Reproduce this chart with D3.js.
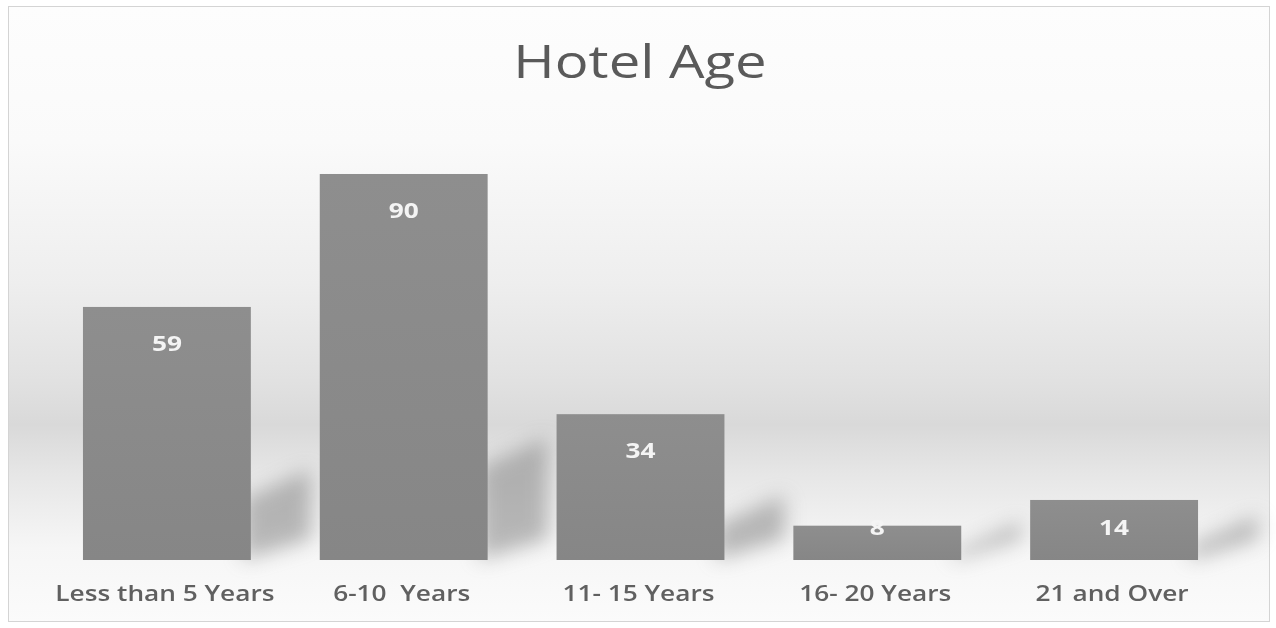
<!DOCTYPE html>
<html><head><meta charset="utf-8">
<script src="https://cdn.jsdelivr.net/npm/d3@7"></script>
<style>html,body{margin:0;padding:0;background:#fff;}svg{display:block;}</style>
</head><body>
<svg id="chart" width="1276" height="628"></svg>
<script>
const categories = ["Less than 5 Years", "6-10  Years", "11- 15 Years", "16- 20 Years", "21 and Over"];
const values = [59, 90, 34, 8, 14];
const title = "Hotel Age";

const W = 1276, H = 628;
const SX = 1.25; // horizontal stretch of text seen in the reference
const svg = d3.select("#chart");
const defs = svg.append("defs");

const bg = defs.append("linearGradient").attr("id","bg").attr("x1",0).attr("y1",0).attr("x2",0).attr("y2",1);
[[0,"#fdfdfd"],[0.22,"#fafafa"],[0.45,"#eeeeee"],[0.6,"#e2e2e2"],[0.68,"#d9d9d9"],[0.76,"#e6e6e6"],[0.88,"#f6f6f6"],[1,"#fbfbfb"]]
  .forEach(([o,c]) => bg.append("stop").attr("offset",o).attr("stop-color",c));

const barGrad = defs.append("linearGradient").attr("id","barg").attr("x1",0).attr("y1",0).attr("x2",0).attr("y2",1);
barGrad.append("stop").attr("offset",0).attr("stop-color","#8e8e8e");
barGrad.append("stop").attr("offset",1).attr("stop-color","#868686");

const blur = defs.append("filter").attr("id","blur").attr("x","-60%").attr("y","-60%").attr("width","220%").attr("height","220%");
blur.append("feGaussianBlur").attr("stdDeviation",10);

const soft = defs.append("filter").attr("id","soft");
soft.append("feGaussianBlur").attr("stdDeviation",0.6);

svg.append("rect").attr("x",0).attr("y",0).attr("width",W).attr("height",H).attr("fill","#ffffff");
svg.append("rect").attr("x",8.5).attr("y",6.5).attr("width",1261).attr("height",615)
  .attr("fill","url(#bg)").attr("stroke","#d4d4d4").attr("stroke-width",1);

const x = d3.scaleBand().domain(categories).range([48.5, 1232.5]).paddingInner(0.291).paddingOuter(0.1455);
const y = d3.scaleLinear().domain([0, 100]).range([560, 131.1]);

const data = categories.map((c,i) => ({c, v: values[i]}));

// shadows
svg.append("g").selectAll("path").data(data).join("path")
  .attr("d", d => {
    const r = x(d.c) + x.bandwidth();
    const b = y(0);
    const h = (y(0) - y(d.v)) * 0.24;
    const dx = 60, dy = 30;
    return `M${r-8},${b} L${r-8},${b-h} L${r+dx},${b-h-dy} L${r+dx},${b-dy*0.7} Z`;
  })
  .attr("fill","#7a7a7a").attr("opacity",0.5).attr("filter","url(#blur)");

// bars
svg.append("g").selectAll("rect").data(data).join("rect")
  .attr("x", d => x(d.c)).attr("y", d => y(d.v))
  .attr("width", x.bandwidth()).attr("height", d => y(0) - y(d.v))
  .attr("fill","url(#barg)");

// value labels
svg.append("g").selectAll("text").data(data).join("text")
  .attr("transform", d => `translate(${x(d.c) + x.bandwidth()/2},${Math.min(y(d.v) + 36, y(0) - 33) + 8}) scale(${SX},1)`)
  .attr("text-anchor","middle")
  .attr("font-family","'Open Sans', sans-serif").attr("font-weight","bold").attr("font-size",21)
  .attr("fill","#f4f4f4").attr("filter","url(#soft)")
  .text(d => d.v);

// category axis
const axis = svg.append("g").attr("transform",`translate(0,${y(0)})`)
  .call(d3.axisBottom(x).tickSize(0).tickPadding(0));
axis.select(".domain").remove();
axis.selectAll("text")
  .attr("y", 0).attr("dy", 0)
  .attr("transform", `translate(-2,41) scale(${SX},1)`)
  .attr("font-family","'Open Sans', sans-serif").attr("font-size",21).attr("font-weight",600)
  .attr("fill","#616161").attr("filter","url(#soft)")
  .attr("xml:space","preserve");
// ticks are positioned by the axis' g transforms; scaling the text around its own anchor
axis.selectAll(".tick text").attr("text-anchor","middle");

// title
svg.append("text").attr("transform", `translate(640,78) scale(${SX},1)`).attr("text-anchor","middle")
  .attr("font-family","'Open Sans', sans-serif").attr("font-size",45)
  .attr("fill","#5a5a5a").attr("filter","url(#soft)").text(title);
</script>
</body></html>
